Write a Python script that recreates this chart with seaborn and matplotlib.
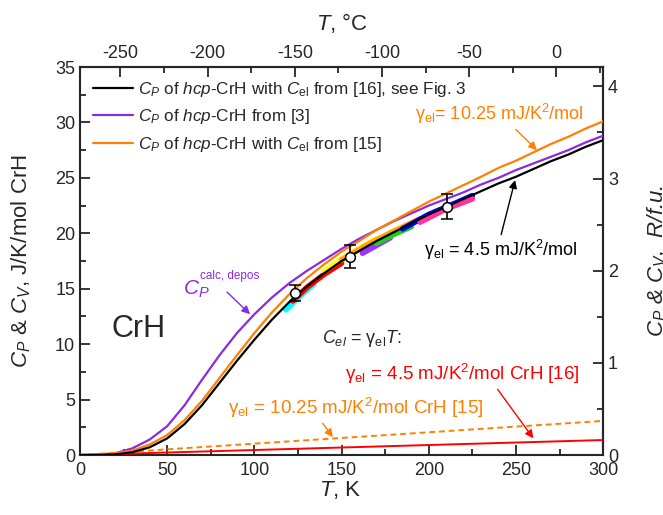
# %%
# heat capacity of hcp-CrH, recreated with seaborn

import numpy as np
import pandas as pd
import matplotlib
matplotlib.use('Agg')
import matplotlib.pyplot as plt
import seaborn as sns

# %%
# data

T_K = [0, 10, 20, 30, 40, 50, 60, 70, 80, 90, 100, 110, 120, 130, 140, 150,
       160, 170, 180, 190, 200, 210, 220, 230, 240, 250, 260, 270, 280, 290, 300]
cp_gamma16 = [0, 0, 0.05, 0.25, 0.7, 1.5, 2.8, 4.5, 6.5, 8.5, 10.4, 12.2, 13.8, 15.2, 16.4, 17.5,
              18.4, 19.3, 20.1, 20.9, 21.7, 22.4, 23.1, 23.8, 24.5, 25.1, 25.8, 26.5, 27.1, 27.8, 28.4]
cp_ref3 = [0, 0, 0.15, 0.6, 1.4, 2.6, 4.5, 6.8, 9.0, 11.0, 12.7, 14.2, 15.5, 16.6, 17.6, 18.6,
           19.5, 20.3, 21.1, 21.8, 22.5, 23.1, 23.7, 24.4, 25.0, 25.7, 26.3, 26.9, 27.5, 28.2, 28.8]
cp_gamma15 = [0, 0.05, 0.15, 0.4, 0.95, 1.8, 3.15, 4.9, 6.95, 9.0, 11.0, 12.85, 14.5, 15.95, 17.2, 18.35,
              19.3, 20.3, 21.15, 22.0, 22.85, 23.6, 24.35, 25.1, 25.9, 26.55, 27.3, 28.05, 28.7, 29.45, 30.1]

# electronic contribution C_el = gamma*T, end points
T_el = [0, 300]
cel_45 = [0, 1.35]
cel_1025 = [0, 3.075]

# experimental points with error bars
T_exp = [123.5, 155, 210.5]
cp_exp = [14.6, 17.9, 22.4]
cp_err = [0.7, 1.0, 1.1]

# coloured experimental runs lying along the black curve
runs = {
    'cyan':    ([118, 122, 128, 134], [13.1, 13.7, 14.6, 15.4]),
    'red':     ([122, 130, 140, 150], [13.9, 15.1, 16.3, 17.3]),
    'yellow':  ([140, 150, 160, 170], [16.6, 17.7, 18.6, 19.5]),
    'orange':  ([150, 165, 180, 195], [17.6, 19.0, 20.2, 21.3]),
    '#9933ff': ([162, 170, 178], [18.2, 18.9, 19.6]),
    '#22cc22': ([170, 180, 190], [19.1, 19.9, 20.6]),
    'blue':    ([185, 200, 215, 225], [20.4, 21.7, 22.7, 23.4]),
    '#ff3399': ([195, 210, 225], [21.0, 22.2, 23.1]),
}

legend_labels = [r'$C_P$ of $hcp$-CrH with $C_\mathrm{el}$ from [16], see Fig. 3',
                 r'$C_P$ of $hcp$-CrH from [3]',
                 r'$C_P$ of $hcp$-CrH with $C_\mathrm{el}$ from [15]']

R_GAS = 8.314
PURPLE = '#8a2be2'
ORANGE = '#ff8000'

# %%
# style

sns.set_style('ticks')
plt.rcParams['font.family'] = ['Liberation Sans', 'DejaVu Sans']
plt.rcParams['mathtext.fontset'] = 'custom'
plt.rcParams['mathtext.rm'] = 'Liberation Sans'
plt.rcParams['mathtext.it'] = 'Liberation Sans:italic'
plt.rcParams['mathtext.bf'] = 'Liberation Sans:bold'
plt.rcParams['axes.linewidth'] = 1.5
plt.rcParams['axes.unicode_minus'] = False

fig = plt.figure(figsize = (6.63, 5.15), dpi = 100)
ax = fig.add_axes([0.1207, 0.1165, 0.789, 0.7534])

# %%
# curves

for col, (tt, vv) in runs.items():
    ax.plot(tt, vv, color = col, lw = 4, solid_capstyle = 'round', zorder = 2)

df = pd.DataFrame({'T': T_K, 'black': cp_gamma16, 'purple': cp_ref3, 'orange': cp_gamma15})
sns.lineplot(data = df, x = 'T', y = 'black', color = 'black', lw = 1.6, ax = ax, label = legend_labels[0], zorder = 4)
sns.lineplot(data = df, x = 'T', y = 'purple', color = PURPLE, lw = 1.6, ax = ax, label = legend_labels[1], zorder = 3)
sns.lineplot(data = df, x = 'T', y = 'orange', color = ORANGE, lw = 1.6, ax = ax, label = legend_labels[2], zorder = 3)

sns.lineplot(x = T_el, y = cel_45, color = 'red', lw = 1.4, ax = ax, zorder = 3)
sns.lineplot(x = T_el, y = cel_1025, color = ORANGE, lw = 1.4, ax = ax, zorder = 3)
ax.lines[-1].set_dashes((3, 2))

ax.errorbar(T_exp, cp_exp, yerr = cp_err, fmt = 'o', ms = 7, mfc = 'white', mec = 'black', mew = 1.1,
            ecolor = 'black', elinewidth = 1.2, capsize = 4, capthick = 1.2, zorder = 6)

# %%
# axes

ax.set_xlim(0, 300)
ax.set_ylim(0, 35)
ax.set_xticks(np.arange(0, 301, 50))
ax.set_xticks(np.arange(0, 301, 25), minor = True)
ax.set_yticks(np.arange(0, 36, 5))
ax.set_yticks(np.arange(0, 36, 2.5), minor = True)
ax.tick_params(which = 'both', direction = 'in', labelsize = 13, width = 1.3)
ax.tick_params(which = 'major', length = 7)
ax.tick_params(which = 'minor', length = 4)
ax.tick_params(axis = 'x', pad = 5)
ax.set_xlabel('$T$, K', fontsize = 16)
ax.set_ylabel('$C_P$ & $C_V$, J/K/mol CrH', fontsize = 16)
ax.xaxis.set_label_coords(0.497, -0.062)
ax.yaxis.set_label_coords(-0.09, 0.5)

top = ax.secondary_xaxis('top', functions = (lambda t: t - 273.15, lambda c: c + 273.15))
top.set_xticks(np.arange(-250, 1, 50))
top.set_xticks(np.arange(-250, 26, 25), minor = True)
top.tick_params(which = 'both', direction = 'in', labelsize = 13, width = 1.3)
top.tick_params(which = 'major', length = 7)
top.tick_params(which = 'minor', length = 4)
top.set_xlabel('$T$, °C', fontsize = 16, labelpad = 11)

right = ax.secondary_yaxis('right', functions = (lambda y: y / R_GAS, lambda r: r * R_GAS))
right.set_yticks(np.arange(0, 4.1, 1))
right.set_yticks(np.arange(0, 4.21, 0.5), minor = True)
right.tick_params(which = 'both', direction = 'in', labelsize = 13, width = 1.3)
right.tick_params(which = 'major', length = 7)
right.tick_params(which = 'minor', length = 4)
right.set_ylabel('$C_P$ & $C_V$,  $R$/f.u.', fontsize = 16, rotation = 90, fontstyle = 'italic', labelpad = 20)

# %%
# legend and annotations

handles, labels = ax.get_legend_handles_labels()
ax.legend(handles[:3], labels[:3], loc = 'upper left', bbox_to_anchor = (0.0, 1.0), frameon = False,
          fontsize = 12.3, handlelength = 2.35, handletextpad = 0.3, labelspacing = 0.5, borderaxespad = 0.35)

ax.text(33.8, 11.4, 'CrH', fontsize = 22, ha = 'center', va = 'center')

arrow = dict(arrowstyle = '-|>', lw = 1.0, shrinkA = 0, shrinkB = 0, mutation_scale = 12)

ax.text(59, 14.9, r'$C_P$', fontsize = 15, color = PURPLE, ha = 'left', va = 'center')
ax.text(68.8, 16.15, 'calc, depos', fontsize = 8.5, color = PURPLE, ha = 'left', va = 'center')
ax.annotate('', xy = (97.5, 12.7), xytext = (84.3, 14.7), arrowprops = dict(arrow, color = PURPLE))

ax.annotate(r'$\mathrm{\gamma}_\mathrm{el}$= 10.25 mJ/K$^2$/mol', xy = (262, 27.5), xytext = (192, 30.75),
            fontsize = 13, color = ORANGE, ha = 'left', va = 'center',
            arrowprops = dict(arrow, color = ORANGE, relpos = (0.58, 0.0)))
ax.annotate(r'$\mathrm{\gamma}_\mathrm{el}$ = 4.5 mJ/K$^2$/mol', xy = (249.5, 24.8), xytext = (197, 18.5),
            fontsize = 13, color = 'black', ha = 'left', va = 'center',
            arrowprops = dict(arrow, color = 'black', relpos = (0.5, 1.0)))
ax.text(139, 10.55, r'$C_{el}$ = $\mathrm{\gamma}_\mathrm{el}$$T$:', fontsize = 13, ha = 'left', va = 'center')
ax.annotate(r'$\mathrm{\gamma}_\mathrm{el}$ = 4.5 mJ/K$^2$/mol CrH [16]', xy = (260, 1.5), xytext = (152, 7.3),
            fontsize = 13.5, color = 'red', ha = 'left', va = 'center',
            arrowprops = dict(arrow, color = 'red', relpos = (0.64, 0.0)))
ax.annotate(r'$\mathrm{\gamma}_\mathrm{el}$ = 10.25 mJ/K$^2$/mol CrH [15]', xy = (145, 1.6), xytext = (85, 4.24),
            fontsize = 13.5, color = ORANGE, ha = 'left', va = 'center',
            arrowprops = dict(arrow, color = ORANGE, relpos = (0.36, 0.0)))

fig.savefig('out.png', dpi = 100)
